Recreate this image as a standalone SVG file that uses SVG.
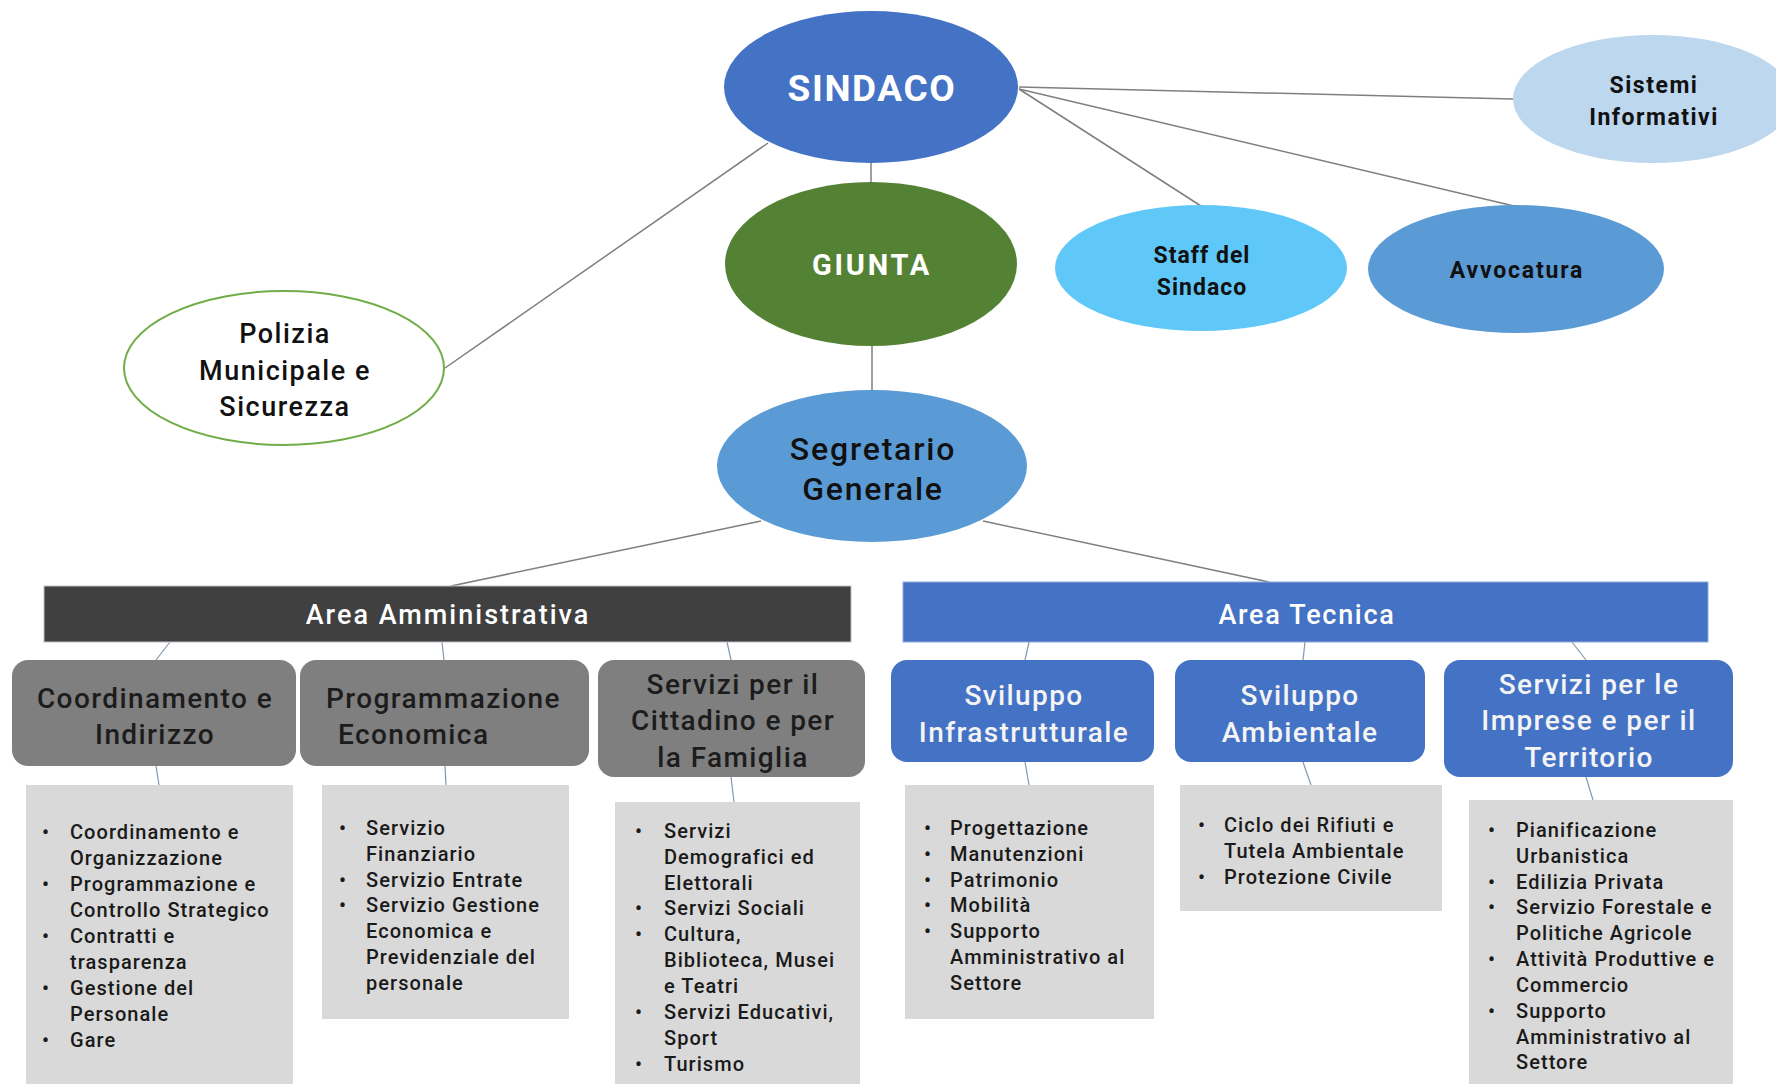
<svg xmlns="http://www.w3.org/2000/svg" width="1776" height="1084" viewBox="0 0 1776 1084">
<style>
text{font-family:Roboto,"Liberation Sans","DejaVu Sans",sans-serif}
.conn line{stroke:#7f7f7f;stroke-width:1.5}
.conn .thin{stroke:#8497b0;stroke-width:1.2}
.ttl{fill:#fff;font-weight:700;text-anchor:middle}
.dk{fill:#111;font-weight:700;text-anchor:middle}
.md{fill:#111;font-weight:500;text-anchor:middle}
.sub{fill:#1c1c1c;font-size:28px;font-weight:500;text-anchor:middle;letter-spacing:1.4px}
.subw{fill:#f4f4f4;font-size:28px;font-weight:500;text-anchor:middle;letter-spacing:1.4px}
.det{fill:#1a1a1a;font-size:20px;font-weight:500;letter-spacing:1.05px}
.gbox{fill:#7f7f7f}
.bbox{fill:#4472c4}
.dbox{fill:#d9d9d9}
</style>
<rect width="1776" height="1084" fill="#fff"/>
<g class="conn" id="connectors">
<line x1="768" y1="143" x2="445" y2="368"/>
<line x1="871" y1="160" x2="871" y2="183"/>
<line x1="872" y1="344" x2="872" y2="391"/>
<line x1="1019" y1="87" x2="1513" y2="99"/>
<line x1="1019" y1="89" x2="1201" y2="206"/>
<line x1="1019" y1="89" x2="1514" y2="206"/>
<line x1="761" y1="521" x2="451" y2="586"/>
<line x1="983" y1="521" x2="1269" y2="582"/>
<line class="thin" x1="170" y1="642" x2="156" y2="660"/>
<line class="thin" x1="442" y1="642" x2="444" y2="660"/>
<line class="thin" x1="727" y1="642" x2="731" y2="660"/>
<line class="thin" x1="1029" y1="642" x2="1025" y2="660"/>
<line class="thin" x1="1305" y1="642" x2="1303" y2="660"/>
<line class="thin" x1="1572" y1="642" x2="1586" y2="660"/>
<line class="thin" x1="156" y1="766" x2="159" y2="785"/>
<line class="thin" x1="445" y1="766" x2="446" y2="785"/>
<line class="thin" x1="731" y1="777" x2="734" y2="802"/>
<line class="thin" x1="1025" y1="762" x2="1029" y2="785"/>
<line class="thin" x1="1303" y1="762" x2="1311" y2="785"/>
<line class="thin" x1="1586" y1="777" x2="1593" y2="800"/>
</g>
<g id="sindaco"><ellipse cx="871" cy="87" rx="147" ry="76" fill="#4472c4"/><text class="ttl" x="872" y="101" font-size="37" letter-spacing="1.6">SINDACO</text></g>
<g id="giunta"><ellipse cx="871" cy="264" rx="146" ry="82" fill="#548235"/><text class="ttl" x="872" y="275" font-size="29" letter-spacing="2.8">GIUNTA</text></g>
<g id="segretario"><ellipse cx="872" cy="466" rx="155" ry="76" fill="#5b9bd5"/><text class="md" x="873" y="460" font-size="32" letter-spacing="1.8">Segretario</text><text class="md" x="873" y="500" font-size="32" letter-spacing="1.8">Generale</text></g>
<g id="polizia"><ellipse cx="284" cy="368" rx="160" ry="77" fill="#fff" stroke="#70ad47" stroke-width="2"/><text class="md" x="285" y="343" font-size="27" letter-spacing="1.5">Polizia</text><text class="md" x="285" y="380" font-size="27" letter-spacing="1.5">Municipale e</text><text class="md" x="285" y="416" font-size="27" letter-spacing="1.5">Sicurezza</text></g>
<g id="staff"><ellipse cx="1201" cy="268" rx="146" ry="63" fill="#5fc8f8"/><text class="dk" x="1202" y="263" font-size="23" letter-spacing="1">Staff del</text><text class="dk" x="1202" y="295" font-size="23" letter-spacing="1">Sindaco</text></g>
<g id="avvocatura"><ellipse cx="1516" cy="269" rx="148" ry="64" fill="#5b9bd5"/><text class="dk" x="1517" y="278" font-size="23" letter-spacing="1.8">Avvocatura</text></g>
<g id="sistemi"><ellipse cx="1653" cy="99" rx="140" ry="64" fill="#bdd7ee"/><text class="dk" x="1654" y="93" font-size="23" letter-spacing="1.5">Sistemi</text><text class="dk" x="1654" y="125" font-size="23" letter-spacing="1.5">Informativi</text></g>
<g id="area-amministrativa"><rect x="44" y="586" width="807" height="56" fill="#404040" stroke="#bfbfbf" stroke-width="1"/><text class="ttl" x="448" y="624" font-size="27" letter-spacing="2" style="font-weight:500">Area Amministrativa</text></g>
<g id="area-tecnica"><rect x="903" y="582" width="805" height="60" fill="#4472c4" stroke="#8faadc" stroke-width="1"/><text class="ttl" x="1307" y="624" font-size="27" letter-spacing="1.7" style="font-weight:500">Area Tecnica</text></g>
<g id="coordinamento"><rect class="gbox" x="12" y="660" width="284" height="106" rx="16"/><text class="sub" x="155" y="708">Coordinamento e</text><text class="sub" x="155" y="744">Indirizzo</text></g>
<g id="programmazione"><rect class="gbox" x="300" y="660" width="289" height="106" rx="16"/><text class="sub" x="326" y="708" style="text-anchor:start">Programmazione</text><text class="sub" x="338" y="744" style="text-anchor:start">Economica</text></g>
<g id="servizi-cittadino"><rect class="gbox" x="598" y="660" width="267" height="117" rx="16"/><text class="sub" x="733" y="694">Servizi per il</text><text class="sub" x="733" y="730">Cittadino e per</text><text class="sub" x="733" y="767">la Famiglia</text></g>
<g id="sviluppo-infra"><rect class="bbox" x="891" y="660" width="263" height="102" rx="16"/><text class="subw" x="1024" y="705">Sviluppo</text><text class="subw" x="1024" y="742">Infrastrutturale</text></g>
<g id="sviluppo-amb"><rect class="bbox" x="1175" y="660" width="250" height="102" rx="16"/><text class="subw" x="1300" y="705">Sviluppo</text><text class="subw" x="1300" y="742">Ambientale</text></g>
<g id="servizi-imprese"><rect class="bbox" x="1444" y="660" width="289" height="117" rx="16"/><text class="subw" x="1589" y="694">Servizi per le</text><text class="subw" x="1589" y="730">Imprese e per il</text><text class="subw" x="1589" y="767">Territorio</text></g>
<g id="det-coordinamento"><rect class="dbox" x="26" y="785" width="267" height="310"/>
<text class="det"><tspan x="42" y="839">•</tspan><tspan x="70" y="839">Coordinamento e</tspan><tspan x="70" y="865">Organizzazione</tspan><tspan x="42" y="891">•</tspan><tspan x="70" y="891">Programmazione e</tspan><tspan x="70" y="917">Controllo Strategico</tspan><tspan x="42" y="943">•</tspan><tspan x="70" y="943">Contratti e</tspan><tspan x="70" y="969">trasparenza</tspan><tspan x="42" y="995">•</tspan><tspan x="70" y="995">Gestione del</tspan><tspan x="70" y="1021">Personale</tspan><tspan x="42" y="1047">•</tspan><tspan x="70" y="1047">Gare</tspan></text></g>
<g id="det-programmazione"><rect class="dbox" x="322" y="785" width="247" height="234"/>
<text class="det"><tspan x="339" y="835">•</tspan><tspan x="366" y="835">Servizio</tspan><tspan x="366" y="861">Finanziario</tspan><tspan x="339" y="887">•</tspan><tspan x="366" y="887">Servizio Entrate</tspan><tspan x="339" y="912">•</tspan><tspan x="366" y="912">Servizio Gestione</tspan><tspan x="366" y="938">Economica e</tspan><tspan x="366" y="964">Previdenziale del</tspan><tspan x="366" y="990">personale</tspan></text></g>
<g id="det-cittadino"><rect class="dbox" x="615" y="802" width="245" height="300"/>
<text class="det"><tspan x="635" y="838">•</tspan><tspan x="664" y="838">Servizi</tspan><tspan x="664" y="864">Demografici ed</tspan><tspan x="664" y="890">Elettorali</tspan><tspan x="635" y="915">•</tspan><tspan x="664" y="915">Servizi Sociali</tspan><tspan x="635" y="941">•</tspan><tspan x="664" y="941">Cultura,</tspan><tspan x="664" y="967">Biblioteca, Musei</tspan><tspan x="664" y="993">e Teatri</tspan><tspan x="635" y="1019">•</tspan><tspan x="664" y="1019">Servizi Educativi,</tspan><tspan x="664" y="1045">Sport</tspan><tspan x="635" y="1071">•</tspan><tspan x="664" y="1071">Turismo</tspan></text></g>
<g id="det-infra"><rect class="dbox" x="905" y="785" width="249" height="234"/>
<text class="det"><tspan x="924" y="835">•</tspan><tspan x="950" y="835">Progettazione</tspan><tspan x="924" y="861">•</tspan><tspan x="950" y="861">Manutenzioni</tspan><tspan x="924" y="887">•</tspan><tspan x="950" y="887">Patrimonio</tspan><tspan x="924" y="912">•</tspan><tspan x="950" y="912">Mobilità</tspan><tspan x="924" y="938">•</tspan><tspan x="950" y="938">Supporto</tspan><tspan x="950" y="964">Amministrativo al</tspan><tspan x="950" y="990">Settore</tspan></text></g>
<g id="det-ambientale"><rect class="dbox" x="1180" y="785" width="262" height="126"/>
<text class="det"><tspan x="1198" y="832">•</tspan><tspan x="1224" y="832">Ciclo dei Rifiuti e</tspan><tspan x="1224" y="858">Tutela Ambientale</tspan><tspan x="1198" y="884">•</tspan><tspan x="1224" y="884">Protezione Civile</tspan></text></g>
<g id="det-imprese"><rect class="dbox" x="1469" y="800" width="264" height="300"/>
<text class="det"><tspan x="1488" y="837">•</tspan><tspan x="1516" y="837">Pianificazione</tspan><tspan x="1516" y="863">Urbanistica</tspan><tspan x="1488" y="889">•</tspan><tspan x="1516" y="889">Edilizia Privata</tspan><tspan x="1488" y="914">•</tspan><tspan x="1516" y="914">Servizio Forestale e</tspan><tspan x="1516" y="940">Politiche Agricole</tspan><tspan x="1488" y="966">•</tspan><tspan x="1516" y="966">Attività Produttive e</tspan><tspan x="1516" y="992">Commercio</tspan><tspan x="1488" y="1018">•</tspan><tspan x="1516" y="1018">Supporto</tspan><tspan x="1516" y="1044">Amministrativo al</tspan><tspan x="1516" y="1069">Settore</tspan></text></g>
</svg>
